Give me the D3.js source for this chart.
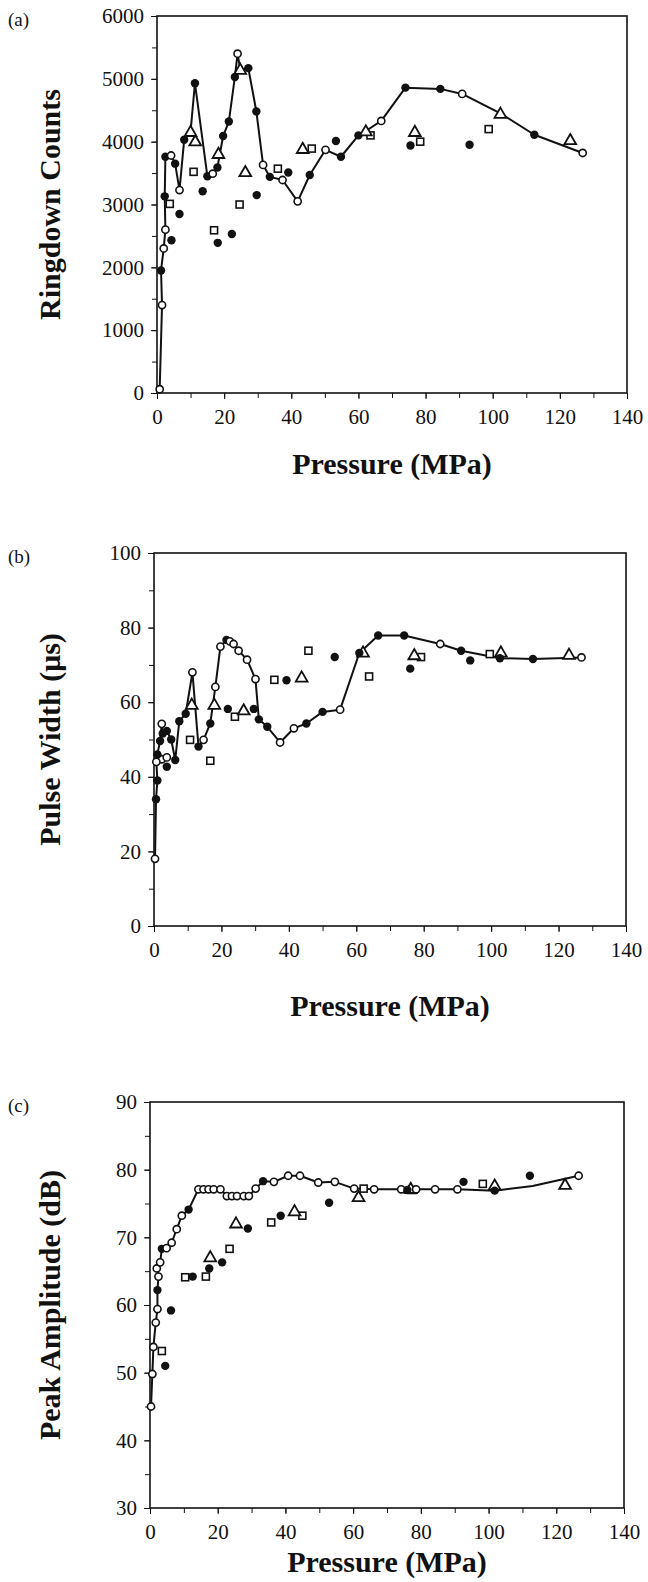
<!DOCTYPE html>
<html>
<head>
<meta charset="utf-8">
<script src="https://cdn.jsdelivr.net/npm/d3@7"></script>
<style>
  body { margin: 0; background: #fff; }
  text { font-family: "Liberation Serif", "Times New Roman", serif; fill: #111; }
  .axis path, .axis line { stroke: #111; }
</style>
</head>
<body>
<div id="root"></div>
<script>

const pressureTicks = [0, 20, 40, 60, 80, 100, 120, 140];
const countTicks = [0, 1000, 2000, 3000, 4000, 5000, 6000];
const widthTicks = [0, 20, 40, 60, 80, 100];
const ampTicks = [30, 40, 50, 60, 70, 80, 90];

// [pressure, value, marker]  o = open circle, f = filled, t = triangle
const countsLine = [
	[0.8, 60, "o"], [1.5, 1400, "o"], [1.2, 1950, "f"], [2.0, 2300, "o"], [2.5, 2600, "o"],
	[2.3, 3130, "f"], [2.5, 3760, "f"], [4.2, 3780, "o"], [5.4, 3650, "f"], [6.7, 3230, "o"],
	[8.1, 4030, "f"], [10.0, 4160, "t"], [11.3, 4930, "f"], [15.0, 3450, "f"], [16.6, 3490, "o"],
	[18.0, 3590, "f"], [19.7, 4090, "f"], [21.4, 4320, "f"], [23.2, 5030, "f"], [24.0, 5400, "o"],
	[24.8, 5150, "t"], [27.2, 5170, "f"], [29.6, 4480, "f"], [31.6, 3630, "o"], [33.6, 3440, "f"],
	[37.4, 3390, "o"], [41.9, 3050, "o"], [45.5, 3470, "f"], [50.2, 3870, "o"], [54.8, 3760, "f"],
	[60.0, 4100, "f"], [62.2, 4170, "t"], [66.8, 4330, "o"], [74.0, 4860, "f"], [84.4, 4840, "f"],
	[90.9, 4760, "o"], [102.3, 4450, "t"], [112.4, 4110, "f"], [126.8, 3820, "o"]
];
const countsSquares = [[3.8, 3010], [10.9, 3520], [17.0, 2590], [24.6, 3000], [36.0, 3570],
	[46.1, 3890], [63.6, 4100], [78.4, 4000], [98.8, 4200]];
const countsFilled = [[4.3, 2430], [6.7, 2850], [13.6, 3210], [18.1, 2390], [22.3, 2530],
	[29.7, 3150], [39.1, 3510], [53.3, 4010], [75.5, 3940], [93.1, 3950]];
const countsTriangles = [[11.4, 4010], [18.3, 3810], [26.3, 3520], [43.4, 3890], [76.8, 4160], [123.1, 4030]];
const countsOpen = [];

const widthLine = [
	[0.3, 18, "o"], [0.6, 34, "f"], [1.0, 39, "f"], [0.7, 44, "o"], [1.0, 46, "f"],
	[1.8, 49.6, "f"], [2.3, 54.2, "o"], [2.6, 51.6, "f"], [3.8, 52.3, "f"], [5.1, 50, "f"],
	[6.3, 44.5, "f"], [7.5, 54.9, "f"], [9.4, 56.9, "f"], [11.4, 68, "o"], [13.2, 48.1, "f"],
	[14.7, 49.9, "o"], [16.7, 54.3, "f"], [18.2, 64.1, "o"], [19.7, 74.9, "o"], [21.5, 76.7, "f"],
	[22.5, 76.3, "o"], [23.6, 75.6, "o"], [25.1, 73.8, "o"], [27.6, 71.4, "o"], [30.1, 66.2, "o"],
	[31.1, 55.4, "f"], [33.6, 53.4, "f"], [37.4, 49.2, "o"], [41.5, 53.0, "o"], [45.2, 54.3, "f"],
	[50.0, 57.4, "f"], [55.2, 58.0, "o"], [60.9, 73.2, "f"], [66.5, 77.9, "f"], [74.2, 77.9, "f"],
	[84.9, 75.6, "o"], [91.1, 73.8, "f"], [102.6, 71.8, "f"], [112.4, 71.6, "f"], [126.8, 72.0, "o"]
];
const widthSquares = [[10.7, 49.9], [16.7, 44.3], [24.0, 56.1], [35.7, 66.0], [45.8, 73.8],
	[63.8, 66.9], [79.2, 72.1], [99.6, 72.9]];
const widthFilled = [[3.8, 42.7], [21.9, 58.2], [29.6, 58.2], [39.3, 65.9], [53.6, 72.1],
	[76.0, 69.0], [93.8, 71.2]];
const widthTriangles = [[11.2, 59.4], [17.9, 59.4], [26.6, 57.9], [43.8, 66.7], [62.0, 73.4],
	[77.2, 72.7], [102.9, 73.4], [123.1, 72.8]];
const widthOpen = [[2.3, 44.7], [3.8, 45.2]];

const ampLine = [
	[0.3, 45.0, "o"], [0.7, 49.8, "o"], [1.0, 53.8, "o"], [1.7, 57.4, "o"],
	[2.2, 59.4, "o"], [2.2, 62.2, "f"], [2.5, 64.2, "o"], [2.0, 65.4, "o"], [3.0, 66.3, "o"],
	[3.5, 68.3, "f"], [4.9, 68.4, "o"], [6.4, 69.2, "o"], [7.9, 71.2, "o"], [9.4, 73.2, "o"],
	[11.4, 74.1, "f"], [14.3, 77.1, "o"], [15.8, 77.1, "o"], [17.3, 77.1, "o"], [18.8, 77.1, "o"],
	[20.8, 77.1, "o"], [22.7, 76.1, "o"], [24.2, 76.1, "o"], [25.7, 76.1, "o"], [27.7, 76.1, "o"],
	[29.2, 76.1, "o"], [31.2, 77.2, "o"], [33.4, 78.3, "f"], [36.6, 78.2, "o"], [40.8, 79.1, "o"],
	[44.3, 79.1, "o"], [49.7, 78.1, "o"], [54.6, 78.2, "o"], [60.3, 77.2, "o"], [66.2, 77.1, "o"],
	[74.2, 77.1, "o"], [76.0, 77.0, "f"], [78.6, 77.1, "o"], [84.2, 77.1, "o"], [90.8, 77.1, "o"],
	[101.8, 76.9, "f"], [113.0, 77.6, null], [126.6, 79.1, "o"]
];
const ampSquares = [[3.5, 53.2], [10.4, 64.1], [16.5, 64.2], [23.5, 68.3], [35.8, 72.2],
	[45.0, 73.2], [63.1, 77.2], [77.5, 77.0], [98.3, 77.9]];
const ampFilled = [[4.5, 51.0], [6.2, 59.2], [12.6, 64.2], [17.5, 65.4], [21.3, 66.3],
	[28.9, 71.3], [38.6, 73.2], [52.9, 75.1], [92.6, 78.2], [112.2, 79.1]];
const ampTriangles = [[17.8, 67.1], [25.4, 72.1], [42.7, 73.9], [61.6, 76.0], [77.0, 77.2],
	[101.8, 77.7], [122.6, 77.8]];
const ampOpen = [];

const panels = [
	{ tag: "(a)", title: "Ringdown Counts", yDomain: [0, 6000], yTicks: countTicks, yMinor: 500,
	  line: countsLine, squares: countsSquares, filled: countsFilled, triangles: countsTriangles, open: countsOpen,
	  left: 157, right: 627, top: 16, bottom: 393, xTitleY: 474 },
	{ tag: "(b)", title: "Pulse Width (\u03bcs)", yDomain: [0, 100], yTicks: widthTicks, yMinor: 10,
	  line: widthLine, squares: widthSquares, filled: widthFilled, triangles: widthTriangles, open: widthOpen,
	  left: 154, right: 626, top: 553, bottom: 926, xTitleY: 1016 },
	{ tag: "(c)", title: "Peak Amplitude (dB)", yDomain: [30, 90], yTicks: ampTicks, yMinor: 5,
	  line: ampLine, squares: ampSquares, filled: ampFilled, triangles: ampTriangles, open: ampOpen,
	  left: 150, right: 624, top: 1102, bottom: 1508, xTitleY: 1572 }
];

const svg = d3.select("#root")
	.append("svg")
		.attr("width", 648)
		.attr("height", 1582);

const drawMarker = (g, type, cx, cy) => {
	if (type === "o") {
		g.append("circle").attr("cx", cx).attr("cy", cy).attr("r", 3.6)
			.attr("fill", "#fff").attr("stroke", "#111").attr("stroke-width", 1.6);
	} else if (type === "f") {
		g.append("circle").attr("cx", cx).attr("cy", cy).attr("r", 4.2).attr("fill", "#111");
	} else if (type === "t") {
		g.append("path").attr("d", d3.symbol(d3.symbolTriangle, 60)())
			.attr("transform", `translate(${cx}, ${cy + 1})`)
			.attr("fill", "#fff").attr("stroke", "#111").attr("stroke-width", 1.8);
	} else if (type === "s") {
		g.append("rect").attr("x", cx - 3.5).attr("y", cy - 3.5).attr("width", 7).attr("height", 7)
			.attr("fill", "#fff").attr("stroke", "#111").attr("stroke-width", 1.6);
	}
};

panels.forEach(p => {
	const x = d3.scaleLinear().domain([0, 140]).range([p.left, p.right]);
	const y = d3.scaleLinear().domain(p.yDomain).range([p.bottom, p.top]);
	const g = svg.append("g");

	// frame
	g.append("rect")
		.attr("x", p.left).attr("y", p.top)
		.attr("width", p.right - p.left).attr("height", p.bottom - p.top)
		.attr("fill", "none").attr("stroke", "#111").attr("stroke-width", 1.6);

	// minor ticks
	g.append("g")
		.attr("class", "axis")
		.attr("transform", `translate(0, ${p.bottom})`)
		.call(d3.axisBottom(x).tickValues(d3.range(0, 141, 10)).tickSize(5).tickFormat(""))
		.call(a => a.select(".domain").remove());
	g.append("g")
		.attr("class", "axis")
		.attr("transform", `translate(${p.left}, 0)`)
		.call(d3.axisLeft(y).tickValues(d3.range(p.yDomain[0], p.yDomain[1] + 1, p.yMinor)).tickSize(5).tickFormat(""))
		.call(a => a.select(".domain").remove());

	// labelled ticks
	g.append("g")
		.attr("class", "axis")
		.attr("transform", `translate(0, ${p.bottom})`)
		.call(d3.axisBottom(x).tickValues(pressureTicks).tickSize(6).tickPadding(10).tickFormat(d3.format("d")))
		.call(a => a.select(".domain").remove())
		.call(a => a.selectAll("text").attr("font-size", 21).attr("fill", "#111"));
	g.append("g")
		.attr("class", "axis")
		.attr("transform", `translate(${p.left}, 0)`)
		.call(d3.axisLeft(y).tickValues(p.yTicks).tickSize(6).tickPadding(7).tickFormat(d3.format("d")))
		.call(a => a.select(".domain").remove())
		.call(a => a.selectAll("text").attr("font-size", 21).attr("fill", "#111"));

	// titles
	g.append("text")
		.attr("x", (p.left + p.right) / 2).attr("y", p.xTitleY)
		.attr("text-anchor", "middle")
		.attr("font-size", 30).attr("font-weight", "bold")
		.text("Pressure (MPa)");
	g.append("text")
		.attr("transform", `translate(49, ${(p.top + p.bottom) / 2}) rotate(-90)`)
		.attr("text-anchor", "middle").attr("dy", "0.35em")
		.attr("font-size", 30).attr("font-weight", "bold")
		.text(p.title);
	g.append("text")
		.attr("x", 8).attr("y", p.top + 10)
		.attr("font-size", 19)
		.text(p.tag);

	// connected series
	const line = d3.line().x(d => x(d[0])).y(d => y(d[1]));
	g.append("path")
		.datum(p.line)
		.attr("d", line)
		.attr("fill", "none").attr("stroke", "#111").attr("stroke-width", 2)
		.attr("stroke-linejoin", "round");

	p.squares.forEach(d => drawMarker(g, "s", x(d[0]), y(d[1])));
	p.filled.forEach(d => drawMarker(g, "f", x(d[0]), y(d[1])));
	p.triangles.forEach(d => drawMarker(g, "t", x(d[0]), y(d[1])));
	p.open.forEach(d => drawMarker(g, "o", x(d[0]), y(d[1])));
	p.line.forEach(d => drawMarker(g, d[2], x(d[0]), y(d[1])));
});

</script>
</body>
</html>
